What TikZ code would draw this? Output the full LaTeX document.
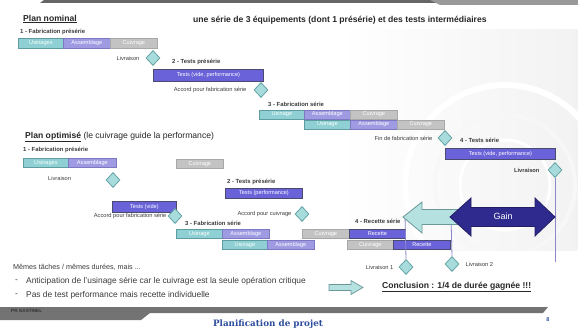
\documentclass[tikz,border=0pt]{standalone}
\usepackage{fontspec}
\setmainfont{Liberation Sans}
\newfontfamily\footfont{DejaVu Serif}
\usetikzlibrary{positioning,shapes.geometric}

\definecolor{usi}{HTML}{8ED0D3}
\definecolor{usiB}{HTML}{5E9C9F}
\definecolor{ass}{HTML}{9E9BE2}
\definecolor{assB}{HTML}{7C79C2}
\definecolor{cui}{HTML}{C3C3C3}
\definecolor{cuiB}{HTML}{A8A8A8}
\definecolor{tst}{HTML}{6A62D8}
\definecolor{tstB}{HTML}{4B4B70}
\definecolor{jal}{HTML}{A8DCDC}
\definecolor{jalB}{HTML}{62A2A4}
\definecolor{gain}{HTML}{2F2B8E}
\definecolor{vline}{HTML}{8A88C8}
\definecolor{txt}{HTML}{3A3A3A}
\definecolor{foot}{HTML}{2C4C9C}

\tikzset{
  tache/.style={draw, line width=0.8pt, anchor=north west, inner sep=0pt, text=white,
    font=\fontsize{5.6}{6}\selectfont},
  usinage/.style={tache, fill=usi, draw=usiB},
  assemblage/.style={tache, fill=ass, draw=assB},
  cuivrage/.style={tache, fill=cui, draw=cuiB},
  essai/.style={tache, fill=tst, draw=tstB},
  jalon/.style={diamond, draw=jalB, fill=jal, line width=0.8pt, minimum width=14pt,
    minimum height=15pt, inner sep=0pt},
  lab/.style={font=\fontsize{5.7}{6}\selectfont, inner sep=1pt, text=txt},
  etape/.style={font=\bfseries\fontsize{5.9}{6}\selectfont, inner sep=1pt, anchor=west, text=txt},
  vl/.style={draw=vline, line width=0.8pt},
  corps/.style={font=\fontsize{8.4}{9}\selectfont, inner sep=0pt, anchor=west, text=txt}
}

\begin{document}
\begin{tikzpicture}[x=1pt,y=-1pt]
  \useasboundingbox (0,0) rectangle (578,329);

  \shade[left color=white, right color=black!5] (340,30) rectangle (578,250);
  \begin{scope}
    \clip (340,30) rectangle (578,250);
    \draw[white, line width=6pt] (505,185) circle (100);
    \draw[black!3, line width=4pt] (505,185) circle (70);
    \draw[white, line width=3pt] (505,185) circle (45);
  \end{scope}

  \fill[black!60] (44,0) -- (436,0) -- (440,3) -- (40,3) -- cycle;
  \fill[black!40] (430,0) -- (578,0) -- (578,5) -- (440,5) -- cycle;

  \node(PN)[anchor=west, inner sep=0pt, font=\bfseries\fontsize{8.6}{9}\selectfont, text=black!85] at (23,19) {\underline{Plan nominal}};
  \node(TT)[anchor=west, inner sep=0pt, font=\bfseries\fontsize{8.6}{9}\selectfont, text=black!85] at (193,20) {une série de 3 équipements (dont 1 présérie) et des tests intermédiaires};

  \node(E1)[etape] at (19,32) {1 - Fabrication présérie};
  \node(U1)[usinage, minimum width=45pt, minimum height=10pt] at (18,38) {Usinages};
  \node(A1)[assemblage, minimum width=47pt, minimum height=10pt] at (63,38) {Assemblage};
  \node(C1)[cuivrage, minimum width=47pt, minimum height=10pt] at (110,38) {Cuivrage};

  \node(J1)[jalon] at (153,58) {};
  \node(NJ1)[lab, left=5pt of J1] {Livraison};

  \node(E2)[etape] at (171,62) {2 - Tests présérie};
  \node(T1)[essai, minimum width=110pt, minimum height=12pt] at (153,69) {Tests (vide, performance)};

  \node(J2)[jalon] at (261,90) {};
  \node(NJ2)[lab, left=6pt of J2] {Accord pour fabrication série};

  \node(E3)[etape] at (267,104) {3 - Fabrication série};
  \node(U2)[usinage, minimum width=45pt, minimum height=9pt] at (259,109.5) {Usinage};
  \node(A2)[assemblage, minimum width=46pt, minimum height=9pt] at (304,109.5) {Assemblage};
  \node(C2)[cuivrage, minimum width=47pt, minimum height=9pt] at (350,109.5) {Cuivrage};
  \node(U3)[usinage, minimum width=46pt, minimum height=9pt] at (304,119.5) {Usinage};
  \node(A3)[assemblage, minimum width=47pt, minimum height=9pt] at (350,119.5) {Assemblage};
  \node(C3)[cuivrage, minimum width=47pt, minimum height=9pt] at (397,119.5) {Cuivrage};

  \node(J3)[jalon] at (445,138) {};
  \node(NJ3)[lab, left=4pt of J3] {Fin de fabrication série};

  \node(E4)[etape] at (459,140) {4 - Tests série};
  \node(T2)[essai, minimum width=110pt, minimum height=11pt] at (445,148) {Tests (vide, performance)};

  \node(J4)[jalon] at (555,170) {};
  \node(NJ4)[lab, left=7pt of J4, font=\bfseries\fontsize{5.7}{6}\selectfont] {Livraison};
  \coordinate(B4) at (555,262);
  \draw[vl] (J4.south) -- (B4);

  \node(PO)[anchor=west, inner sep=0pt, font=\fontsize{8.6}{9}\selectfont, text=black!85] at (25,137) {\underline{\textbf{Plan optimisé}} (le cuivrage guide la performance)};

  \node(F1)[etape] at (22,150) {1 - Fabrication présérie};
  \node(U4)[usinage, minimum width=45pt, minimum height=9pt] at (23,158) {Usinages};
  \node(A4)[assemblage, minimum width=48pt, minimum height=9pt] at (68,158) {Assemblage};
  \node(C4)[cuivrage, minimum width=47pt, minimum height=9pt] at (176,159) {Cuivrage};

  \node(K1)[jalon] at (113,180) {};
  \node(NK1)[lab, anchor=west] at (47,178) {Livraison};

  \node(F2)[etape] at (226,182) {2 - Tests présérie};
  \node(T3)[essai, minimum width=77pt, minimum height=10pt] at (225,188) {Tests (performance)};

  \node(T4)[essai, minimum width=64pt, minimum height=11pt] at (112,201) {Tests (vide)};
  \node(K2)[jalon] at (175,216) {};
  \node(NK2)[lab, left=0pt of K2] {Accord pour fabrication série};

  \node(K3)[jalon] at (302,214) {};
  \node(NK3)[lab, left=2pt of K3] {Accord pour cuivrage};

  \node(F3)[etape] at (184,223) {3 - Fabrication série};
  \node(U5)[usinage, minimum width=46pt, minimum height=9pt] at (176,229) {Usinage};
  \node(A5)[assemblage, minimum width=47pt, minimum height=9pt] at (222,229) {Assemblage};
  \node(C5)[cuivrage, minimum width=47pt, minimum height=9pt] at (302,229) {Cuivrage};
  \node(R1)[essai, minimum width=56pt, minimum height=9pt] at (349,229) {Recette};
  \node(U6)[usinage, minimum width=45pt, minimum height=9pt] at (222,240) {Usinage};
  \node(A6)[assemblage, minimum width=47pt, minimum height=9pt] at (267,240) {Assemblage};
  \node(C6)[cuivrage, minimum width=46pt, minimum height=9pt] at (347,240) {Cuivrage};
  \node(R2)[essai, minimum width=57pt, minimum height=9pt] at (393,240) {Recette};

  \node(F4)[etape] at (354,221) {4 - Recette série};

  \node(K4)[jalon] at (406,267) {};
  \node(NK4)[lab, left=4pt of K4] {Livraison 1};
  \node(K5)[jalon] at (452,264) {};
  \node(NK5)[lab, right=5pt of K5] {Livraison 2};
  \coordinate(H1) at (405,216);
  \coordinate(H2) at (451,216);
  \draw[vl] (H1) -- (K4.north);
  \draw[vl] (H2) -- (K5.north);

  \draw[fill=jal!85!white, draw=jalB!70!gray, line width=0.8pt] (403,217) -- (422,202) -- (422,209.5) -- (460,209.5)
    -- (460,224.5) -- (422,224.5) -- (422,233) -- cycle;
  \draw[fill=gain, draw=gain!70!black, line width=0.8pt] (450,217) -- (471,198) -- (471,207.5) -- (535,207.5)
    -- (535,198) -- (555,217) -- (535,236) -- (535,226.5) -- (471,226.5) -- (471,236) -- cycle;
  \node(G)[text=white, font=\fontsize{9}{10}\selectfont] at (503,216) {Gain};

  \node(M1)[corps, font=\fontsize{7.2}{8}\selectfont] at (13,267) {Mêmes tâches / mêmes durées, mais ...};
  \node(M2)[corps] at (15,281) {-};
  \node(M3)[corps] at (26,281) {Anticipation de l'usinage série car le cuivrage est la seule opération critique};
  \node(M4)[corps] at (15,295) {-};
  \node(M5)[corps] at (26,295) {Pas de test performance mais recette individuelle};

  \draw[fill=jal!85!white, draw=jalB!70!gray, line width=0.7pt] (363,287.5) -- (351,280.5) -- (351,284.5) -- (329,284.5)
    -- (329,290.5) -- (351,290.5) -- (351,294.5) -- cycle;
  \node(CC)[anchor=west, inner sep=0pt, font=\bfseries\fontsize{8.6}{9}\selectfont, text=black!85] at (382,287) {\underline{Conclusion : 1/4 de durée gagnée !!!}};

  \fill[black!55] (0,307) -- (548,307) -- (543,313) -- (150,313) -- (141,320) -- (0,320) -- cycle;
  \node(PG)[anchor=west, inner sep=0pt, font=\bfseries\fontsize{4.6}{5}\selectfont, text=black!80] at (11,311) {PR GASTINEL};
  \node(PP)[font=\footfont\bfseries\fontsize{8.8}{9}\selectfont, text=foot] at (268,324) {Planification de projet};
  \node(NP)[font=\bfseries\fontsize{5.5}{6}\selectfont, text=foot] at (548,320) {8};
\end{tikzpicture}
\end{document}
